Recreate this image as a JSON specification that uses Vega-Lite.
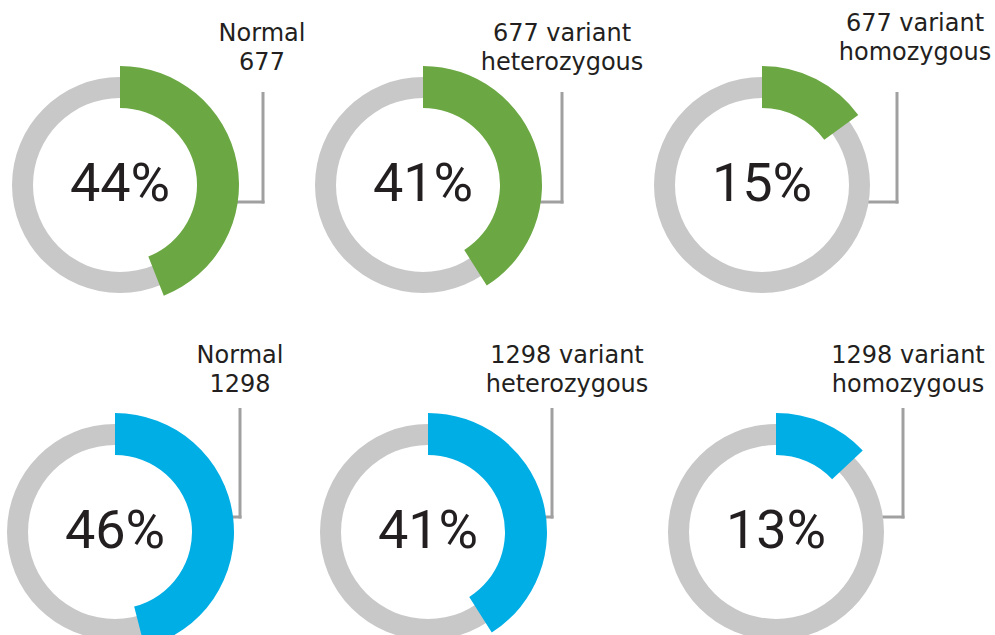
{
  "$schema": "https://vega.github.io/schema/vega-lite/v6.json",
  "padding": 0,
  "background": "white",
  "data": {"values": [
    {"id": "p1", "gene": "677", "label": ["Normal", "677"], "pct": 0.44},
    {"id": "p2", "gene": "677", "label": ["677 variant", "heterozygous"], "pct": 0.41},
    {"id": "p3", "gene": "677", "label": ["677 variant", "homozygous"], "pct": 0.15},
    {"id": "p4", "gene": "1298", "label": ["Normal", "1298"], "pct": 0.46},
    {"id": "p5", "gene": "1298", "label": ["1298 variant", "heterozygous"], "pct": 0.41},
    {"id": "p6", "gene": "1298", "label": ["1298 variant", "homozygous"], "pct": 0.13}
  ]},
  "columns": 3,
  "spacing": 0,
  "bounds": "flush",
  "resolve": {"scale": {"x": "independent", "y": "independent"}},
  "concat": [
    {
      "width": 270, "height": 320,
      "transform": [{"filter": "datum.id == 'p1'"}],
      "encoding": {
        "x": {"datum": 0, "type": "quantitative", "scale": {"domain": [-120, 150], "nice": false, "zero": false}},
        "y": {"datum": 0, "type": "quantitative", "scale": {"domain": [-185, 135], "nice": false, "zero": false, "reverse": true}}
      },
      "layer": [
        {"mark": {"type": "rule", "color": "#a0a0a0", "strokeWidth": 3}, "encoding": {"x": {"datum": 143}, "y": {"datum": -93}, "y2": {"datum": 18.5}}},
        {"mark": {"type": "rule", "color": "#a0a0a0", "strokeWidth": 3}, "encoding": {"x": {"datum": 100}, "x2": {"datum": 144.5}, "y": {"datum": 17}}},
        {"mark": {"type": "arc", "color": "#c8c8c8", "innerRadius": 87, "outerRadius": 108, "theta": 0, "theta2": 6.2832}},
        {"mark": {"type": "arc", "innerRadius": 77, "outerRadius": 119}, "encoding": {"theta": {"field": "pct", "type": "quantitative", "scale": {"domain": [0, 1], "range": [0, 6.2832]}}, "color": {"field": "gene", "type": "nominal", "scale": {"domain": ["677", "1298"], "range": ["#6ba843", "#00aee6"]}, "legend": null}}},
        {"mark": {"type": "text", "font": "Roboto", "fontSize": 54, "color": "#231f20", "baseline": "middle", "align": "center"}, "encoding": {"text": {"field": "pct", "type": "quantitative", "format": ".0%"}}},
        {"mark": {"type": "text", "font": "DejaVu Sans", "fontSize": 24, "lineHeight": 29, "color": "#231f20", "baseline": "middle", "align": "center"}, "encoding": {"x": {"datum": 142}, "y": {"datum": -151}, "text": {"field": "label"}}}
      ]
    },
    {
      "width": 330, "height": 320,
      "transform": [{"filter": "datum.id == 'p2'"}],
      "encoding": {
        "x": {"datum": 0, "type": "quantitative", "scale": {"domain": [-153, 177], "nice": false, "zero": false}},
        "y": {"datum": 0, "type": "quantitative", "scale": {"domain": [-185, 135], "nice": false, "zero": false, "reverse": true}}
      },
      "layer": [
        {"mark": {"type": "rule", "color": "#a0a0a0", "strokeWidth": 3}, "encoding": {"x": {"datum": 139}, "y": {"datum": -93}, "y2": {"datum": 18.5}}},
        {"mark": {"type": "rule", "color": "#a0a0a0", "strokeWidth": 3}, "encoding": {"x": {"datum": 100}, "x2": {"datum": 140.5}, "y": {"datum": 17}}},
        {"mark": {"type": "arc", "color": "#c8c8c8", "innerRadius": 87, "outerRadius": 108, "theta": 0, "theta2": 6.2832}},
        {"mark": {"type": "arc", "innerRadius": 77, "outerRadius": 119}, "encoding": {"theta": {"field": "pct", "type": "quantitative", "scale": {"domain": [0, 1], "range": [0, 6.2832]}}, "color": {"field": "gene", "type": "nominal", "scale": {"domain": ["677", "1298"], "range": ["#6ba843", "#00aee6"]}, "legend": null}}},
        {"mark": {"type": "text", "font": "Roboto", "fontSize": 54, "color": "#231f20", "baseline": "middle", "align": "center"}, "encoding": {"text": {"field": "pct", "type": "quantitative", "format": ".0%"}}},
        {"mark": {"type": "text", "font": "DejaVu Sans", "fontSize": 24, "lineHeight": 29, "color": "#231f20", "baseline": "middle", "align": "center"}, "encoding": {"x": {"datum": 139}, "y": {"datum": -151}, "text": {"field": "label"}}}
      ]
    },
    {
      "width": 395, "height": 320,
      "transform": [{"filter": "datum.id == 'p3'"}],
      "encoding": {
        "x": {"datum": 0, "type": "quantitative", "scale": {"domain": [-162, 233], "nice": false, "zero": false}},
        "y": {"datum": 0, "type": "quantitative", "scale": {"domain": [-185, 135], "nice": false, "zero": false, "reverse": true}}
      },
      "layer": [
        {"mark": {"type": "rule", "color": "#a0a0a0", "strokeWidth": 3}, "encoding": {"x": {"datum": 135}, "y": {"datum": -93}, "y2": {"datum": 18.5}}},
        {"mark": {"type": "rule", "color": "#a0a0a0", "strokeWidth": 3}, "encoding": {"x": {"datum": 100}, "x2": {"datum": 136.5}, "y": {"datum": 17}}},
        {"mark": {"type": "arc", "color": "#c8c8c8", "innerRadius": 87, "outerRadius": 108, "theta": 0, "theta2": 6.2832}},
        {"mark": {"type": "arc", "innerRadius": 77, "outerRadius": 119}, "encoding": {"theta": {"field": "pct", "type": "quantitative", "scale": {"domain": [0, 1], "range": [0, 6.2832]}}, "color": {"field": "gene", "type": "nominal", "scale": {"domain": ["677", "1298"], "range": ["#6ba843", "#00aee6"]}, "legend": null}}},
        {"mark": {"type": "text", "font": "Roboto", "fontSize": 54, "color": "#231f20", "baseline": "middle", "align": "center"}, "encoding": {"text": {"field": "pct", "type": "quantitative", "format": ".0%"}}},
        {"mark": {"type": "text", "font": "DejaVu Sans", "fontSize": 24, "lineHeight": 29, "color": "#231f20", "baseline": "middle", "align": "center"}, "encoding": {"x": {"datum": 153}, "y": {"datum": -161}, "text": {"field": "label"}}}
      ]
    },
    {
      "width": 270, "height": 315,
      "transform": [{"filter": "datum.id == 'p4'"}],
      "encoding": {
        "x": {"datum": 0, "type": "quantitative", "scale": {"domain": [-115, 155], "nice": false, "zero": false}},
        "y": {"datum": 0, "type": "quantitative", "scale": {"domain": [-212, 103], "nice": false, "zero": false, "reverse": true}}
      },
      "layer": [
        {"mark": {"type": "rule", "color": "#a0a0a0", "strokeWidth": 3}, "encoding": {"x": {"datum": 125}, "y": {"datum": -124}, "y2": {"datum": -13.5}}},
        {"mark": {"type": "rule", "color": "#a0a0a0", "strokeWidth": 3}, "encoding": {"x": {"datum": 100}, "x2": {"datum": 126.5}, "y": {"datum": -15}}},
        {"mark": {"type": "arc", "color": "#c8c8c8", "innerRadius": 87, "outerRadius": 108, "theta": 0, "theta2": 6.2832}},
        {"mark": {"type": "arc", "innerRadius": 77, "outerRadius": 119}, "encoding": {"theta": {"field": "pct", "type": "quantitative", "scale": {"domain": [0, 1], "range": [0, 6.2832]}}, "color": {"field": "gene", "type": "nominal", "scale": {"domain": ["677", "1298"], "range": ["#6ba843", "#00aee6"]}, "legend": null}}},
        {"mark": {"type": "text", "font": "Roboto", "fontSize": 54, "color": "#231f20", "baseline": "middle", "align": "center"}, "encoding": {"text": {"field": "pct", "type": "quantitative", "format": ".0%"}}},
        {"mark": {"type": "text", "font": "DejaVu Sans", "fontSize": 24, "lineHeight": 29, "color": "#231f20", "baseline": "middle", "align": "center"}, "encoding": {"x": {"datum": 125}, "y": {"datum": -176}, "text": {"field": "label"}}}
      ]
    },
    {
      "width": 330, "height": 315,
      "transform": [{"filter": "datum.id == 'p5'"}],
      "encoding": {
        "x": {"datum": 0, "type": "quantitative", "scale": {"domain": [-158, 172], "nice": false, "zero": false}},
        "y": {"datum": 0, "type": "quantitative", "scale": {"domain": [-212, 103], "nice": false, "zero": false, "reverse": true}}
      },
      "layer": [
        {"mark": {"type": "rule", "color": "#a0a0a0", "strokeWidth": 3}, "encoding": {"x": {"datum": 124}, "y": {"datum": -124}, "y2": {"datum": -13.5}}},
        {"mark": {"type": "rule", "color": "#a0a0a0", "strokeWidth": 3}, "encoding": {"x": {"datum": 100}, "x2": {"datum": 125.5}, "y": {"datum": -15}}},
        {"mark": {"type": "arc", "color": "#c8c8c8", "innerRadius": 87, "outerRadius": 108, "theta": 0, "theta2": 6.2832}},
        {"mark": {"type": "arc", "innerRadius": 77, "outerRadius": 119}, "encoding": {"theta": {"field": "pct", "type": "quantitative", "scale": {"domain": [0, 1], "range": [0, 6.2832]}}, "color": {"field": "gene", "type": "nominal", "scale": {"domain": ["677", "1298"], "range": ["#6ba843", "#00aee6"]}, "legend": null}}},
        {"mark": {"type": "text", "font": "Roboto", "fontSize": 54, "color": "#231f20", "baseline": "middle", "align": "center"}, "encoding": {"text": {"field": "pct", "type": "quantitative", "format": ".0%"}}},
        {"mark": {"type": "text", "font": "DejaVu Sans", "fontSize": 24, "lineHeight": 29, "color": "#231f20", "baseline": "middle", "align": "center"}, "encoding": {"x": {"datum": 139}, "y": {"datum": -176}, "text": {"field": "label"}}}
      ]
    },
    {
      "width": 395, "height": 315,
      "transform": [{"filter": "datum.id == 'p6'"}],
      "encoding": {
        "x": {"datum": 0, "type": "quantitative", "scale": {"domain": [-176, 219], "nice": false, "zero": false}},
        "y": {"datum": 0, "type": "quantitative", "scale": {"domain": [-212, 103], "nice": false, "zero": false, "reverse": true}}
      },
      "layer": [
        {"mark": {"type": "rule", "color": "#a0a0a0", "strokeWidth": 3}, "encoding": {"x": {"datum": 127}, "y": {"datum": -124}, "y2": {"datum": -13.5}}},
        {"mark": {"type": "rule", "color": "#a0a0a0", "strokeWidth": 3}, "encoding": {"x": {"datum": 100}, "x2": {"datum": 128.5}, "y": {"datum": -15}}},
        {"mark": {"type": "arc", "color": "#c8c8c8", "innerRadius": 87, "outerRadius": 108, "theta": 0, "theta2": 6.2832}},
        {"mark": {"type": "arc", "innerRadius": 77, "outerRadius": 119}, "encoding": {"theta": {"field": "pct", "type": "quantitative", "scale": {"domain": [0, 1], "range": [0, 6.2832]}}, "color": {"field": "gene", "type": "nominal", "scale": {"domain": ["677", "1298"], "range": ["#6ba843", "#00aee6"]}, "legend": null}}},
        {"mark": {"type": "text", "font": "Roboto", "fontSize": 54, "color": "#231f20", "baseline": "middle", "align": "center"}, "encoding": {"text": {"field": "pct", "type": "quantitative", "format": ".0%"}}},
        {"mark": {"type": "text", "font": "DejaVu Sans", "fontSize": 24, "lineHeight": 29, "color": "#231f20", "baseline": "middle", "align": "center"}, "encoding": {"x": {"datum": 132}, "y": {"datum": -176}, "text": {"field": "label"}}}
      ]
    }
  ],
  "config": {
    "view": {"stroke": null},
    "axis": {"disable": true}
  }
}
